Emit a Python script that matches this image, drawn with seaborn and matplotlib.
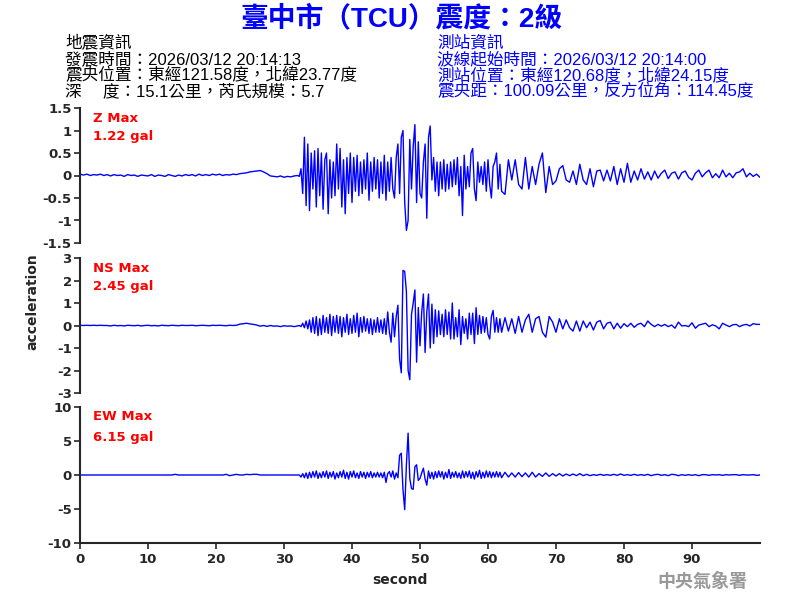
import numpy as np
import pandas as pd
import matplotlib
matplotlib.use("Agg")
import matplotlib.pyplot as plt
import seaborn as sns

# ---- waveform samples ----
# quiet part: 0 .. 31.5 s every 0.5 s
z_quiet = [0.03, 0.01, 0.03, 0.0, 0.02, 0.01, 0.03, 0.0,
           0.02, -0.01, 0.02, 0.0, 0.01, -0.02, 0.02, 0.0,
           0.01, -0.02, 0.01, 0.0, -0.01, 0.02, -0.02, 0.01,
           0.0, -0.02, 0.02, 0.0, -0.02, 0.01, -0.01, 0.02,
           0.0, 0.02, -0.01, 0.03, 0.0, 0.02, 0.0, 0.03,
           0.01, 0.03, 0.0, 0.02, 0.01, 0.03, 0.02, 0.04,
           0.05, 0.06, 0.08, 0.09, 0.1, 0.11, 0.08, 0.04,
           -0.01, -0.02, -0.03, -0.01, -0.04, -0.02, -0.03, -0.01]
# strong part: 32 .. 61.75 s every 0.25 s
z_fast = [0.0, -0.02, 0.15, -0.4, 0.85, -0.67, 0.7, -0.78,
          0.5, -0.3, 0.55, -0.7, 0.6, -0.45, 0.5, -0.75,
          0.35, 0.5, -0.85, 0.35, -0.5, 0.3, -0.45, 0.7,
          -0.3, 0.6, -0.7, 0.35, -0.85, 0.4, -0.4, 0.5,
          -0.6, 0.4, -0.35, 0.45, -0.45, 0.3, -0.4, 0.35,
          -0.3, 0.5, -0.55, 0.3, -0.35, 0.4, -0.3, 0.35,
          -0.5, 0.3, -0.4, 0.45, -0.55, 0.3, -0.35, 0.4,
          -0.3, -0.5, 0.4, 0.7, -0.4, 0.85, 1.0, -0.6,
          -1.22, -1.0, 0.8, -0.3, 0.65, 1.13, -0.6, 0.75,
          -0.4, -0.5, 0.3, 0.7, -0.95, 0.85, 1.1, -0.1,
          0.4, -0.35, 0.3, -0.45, 0.3, -0.3, 0.35, -0.35,
          0.25, -0.3, 0.3, -0.25, 0.35, -0.2, 0.4, -0.45,
          0.2, -0.89, 0.45, -0.3, 0.2, -0.25, 0.5, 0.6,
          -0.3, -0.56, 0.3, -0.15, 0.2, -0.2, 0.3, -0.35,
          0.35, -0.2, -0.5, 0.2, 0.3, 0.5, -0.3, 0.25]
# coda: 62 .. 101.5 s every 0.5 s
z_slow = [-0.35, -0.42, 0.35, -0.1, 0.35, -0.2, -0.3, 0.4,
          -0.3, 0.2, -0.2, 0.25, 0.5, -0.38, 0.2, -0.2,
          -0.12, 0.15, 0.22, -0.1, -0.15, 0.1, -0.2, 0.25,
          -0.1, -0.2, 0.15, -0.25, 0.1, 0.12, -0.12, 0.12,
          -0.12, 0.2, -0.2, 0.15, -0.15, 0.27, -0.15, 0.1,
          -0.1, 0.15, -0.08, 0.08, -0.1, 0.1, -0.06, 0.05,
          0.12, -0.07, 0.05, 0.08, -0.08, 0.06, 0.1, -0.04,
          -0.1, 0.05, 0.12, -0.03, 0.06, 0.12, -0.05, 0.04,
          -0.05, 0.12, -0.03, 0.05, -0.05, 0.06, 0.08, 0.15,
          -0.03, 0.05, -0.02, 0.03, -0.04, -0.04, -0.04, -0.04]

ns_quiet = [0.01, 0.0, 0.01, 0.0, 0.01, 0.0, 0.01, 0.0,
            0.0, -0.02, 0.01, -0.01, 0.0, -0.02, 0.01, 0.0,
            -0.01, 0.01, -0.02, 0.0, 0.01, -0.01, 0.0, -0.02,
            0.01, 0.0, -0.01, 0.01, 0.0, -0.01, 0.01, 0.0,
            0.0, 0.01, -0.01, 0.0, 0.01, 0.0, -0.01, 0.01,
            0.0, 0.01, 0.0, -0.01, 0.01, 0.0, 0.01, 0.06,
            0.08, 0.1, 0.07, 0.05, 0.02, -0.03, 0.0, -0.04,
            0.0, -0.03, -0.02, -0.05, -0.01, -0.03, -0.02, -0.05]
ns_fast = [-0.02, 0.0, -0.05, 0.1, -0.1, 0.2, -0.15, 0.25,
           -0.3, 0.35, -0.35, 0.4, -0.45, 0.3, -0.4, 0.45,
           -0.3, 0.35, -0.35, 0.5, -0.45, 0.4, -0.3, 0.45,
           -0.35, 0.4, -0.5, 0.35, -0.3, 0.5, -0.4, 0.3,
           -0.35, 0.45, -0.3, 0.55, -0.5, 0.35, -0.3, 0.4,
           -0.25, 0.3, -0.35, 0.3, -0.4, 0.25, -0.3, 0.35,
           -0.3, 0.25, -0.35, 0.3, -0.4, 0.6, -0.3, -0.74,
           0.55, -0.5, 0.4, 0.9, -1.5, -2.1, 2.45, 2.4,
           1.5, -2.0, -2.41, 0.5, 1.0, 1.58, -1.63, 0.8,
           -0.9, 0.6, 1.4, -1.2, 0.6, 1.4, -1.0, 0.95,
           -0.8, 0.7, -0.5, 0.65, -0.4, 0.5, -0.5, 0.7,
           -0.4, 0.6, -0.6, 1.0, -0.6, 0.35, -0.5, 0.7,
           -0.85, 0.4, -0.35, 0.3, -0.6, 0.55, -0.4, 0.55,
           -0.8, 0.79, -0.4, 0.45, -0.35, 0.4, -0.3, 0.35,
           -0.4, -0.6, 0.4, 0.67, -0.3, 0.35, -0.3, 0.3]
ns_slow = [-0.3, 0.35, -0.25, 0.3, -0.35, 0.4, -0.3, 0.25,
           0.5, -0.3, 0.3, 0.4, -0.3, -0.52, 0.4, 0.15,
           -0.3, 0.3, -0.15, 0.25, -0.1, -0.25, 0.2, -0.25,
           0.2, -0.1, 0.15, -0.2, 0.15, 0.22, -0.15, 0.1,
           0.15, -0.15, 0.1, -0.12, 0.08, -0.05, 0.1, -0.08,
           0.05, 0.1, -0.05, 0.2, 0.05, -0.05, 0.05, -0.03,
           0.05, -0.05, 0.02, -0.12, 0.15, -0.02, 0.0, -0.05,
           0.12, -0.12, 0.02, 0.06, 0.1, -0.05, 0.03, -0.02,
           -0.15, 0.1, 0.02, -0.05, 0.03, 0.05, -0.05, 0.02,
           0.05, -0.02, 0.08, 0.05, 0.05, 0.05, 0.05, 0.05]

ew_quiet = [0.0, 0.0, 0.0, 0.0, 0.0, 0.0, 0.0, 0.0,
            0.0, 0.0, 0.0, 0.0, 0.0, 0.0, 0.0, 0.0,
            0.0, 0.0, 0.0, 0.0, 0.0, 0.0, 0.0, 0.0,
            0.0, 0.0, 0.0, 0.0, 0.1, 0.0, 0.0, 0.0,
            0.0, 0.0, 0.0, 0.0, 0.0, 0.0, 0.0, 0.0,
            0.0, 0.0, 0.0, 0.1, -0.1, 0.0, 0.1, 0.0,
            0.0, 0.1, 0.05, 0.1, 0.1, 0.0, 0.0, 0.0,
            0.0, 0.0, 0.0, 0.0, 0.0, 0.0, 0.0, 0.0]
ew_fast = [0.0, 0.0, -0.3, 0.2, -0.4, 0.3, -0.5, 0.4,
           -0.4, 0.5, -0.3, 0.6, -0.5, 0.3, -0.4, 0.5,
           -0.3, 0.6, -0.5, 0.4, -0.3, 0.5, -0.6, 0.3,
           -0.4, 0.5, -0.3, 0.7, -0.5, 0.4, -0.6, 0.5,
           -0.3, 0.6, -0.4, 0.3, -0.5, 0.5, -0.3, 0.4,
           -0.5, 0.4, -0.3, 0.5, -0.4, 0.3, -0.3, 0.4,
           -0.3, 0.3, -0.4, 0.4, -1.1, 0.2, 0.5, -0.3,
           0.6, -0.6, 0.3, -0.4, 2.9, 3.2, -2.2, -5.1,
           1.5, 6.15, -0.5, -2.0, -2.1, 1.2, 1.5, -0.8,
           -0.5, 0.3, 1.0, -0.6, -1.5, 0.6, -0.5, 0.4,
           -0.6, 0.5, -0.4, 0.6, -0.3, 0.5, -0.6, 0.4,
           -0.4, 0.8, -0.5, 0.4, -0.3, 0.5, -0.4, 0.3,
           -0.5, 0.6, -0.4, 0.5, -0.3, 0.6, -0.5, 0.4,
           -0.6, 0.5, -0.3, 0.7, -0.5, 0.4, -0.4, 0.6,
           -0.3, 0.5, -0.4, 0.4, -0.3, 0.5, -0.3, 0.4]
ew_slow = [-0.4, 0.4, -0.3, 0.3, -0.3, 0.35, -0.25, 0.3,
           -0.3, 0.4, -0.3, 0.2, -0.2, 0.3, -0.2, 0.2,
           -0.15, 0.2, -0.15, 0.15, -0.1, 0.15, -0.1, 0.2,
           -0.1, 0.1, -0.1, 0.05, -0.05, 0.1, -0.05, 0.05,
           -0.05, 0.1, -0.05, 0.15, -0.05, 0.05, -0.05, 0.1,
           -0.05, 0.05, -0.05, 0.1, -0.1, 0.05, 0.1, -0.05,
           0.05, -0.1, 0.1, 0.05, -0.1, 0.05, -0.05, 0.05,
           -0.05, 0.05, -0.1, 0.05, 0.05, -0.05, 0.05, 0.0,
           0.05, -0.05, 0.05, 0.0, 0.05, 0.05, -0.05, 0.05,
           0.0, 0.0, 0.05, -0.05, 0.0, 0.0, 0.0, 0.0]

components = ["Z", "NS", "EW"]
max_labels = ["1.22 gal", "2.45 gal", "6.15 gal"]
y_limits = [1.5, 3, 10]
y_ticks = [[-1.5, -1, -0.5, 0, 0.5, 1, 1.5],
           [-3, -2, -1, 0, 1, 2, 3],
           [-10, -5, 0, 5, 10]]
x_ticks = [0, 10, 20, 30, 40, 50, 60, 70, 80, 90]

title = "臺中市（TCU）震度：2級"
quake_info = ["地震資訊",
              "發震時間：2026/03/12 20:14:13",
              "震央位置：東經121.58度，北緯23.77度",
              "深　 度：15.1公里，芮氏規模：5.7"]
station_info = ["測站資訊",
                "波線起始時間：2026/03/12 20:14:00",
                "測站位置：東經120.68度，北緯24.15度",
                "震央距：100.09公里，反方位角：114.45度"]


def trace(quiet, fast, slow):
    t = np.concatenate([0.5 * np.arange(len(quiet)),
                        32 + 0.25 * np.arange(len(fast)),
                        62 + 0.5 * np.arange(len(slow))])
    v = np.concatenate([quiet, fast, slow])
    return pd.DataFrame({"second": t, "acceleration": v})


traces = [trace(z_quiet, z_fast, z_slow),
          trace(ns_quiet, ns_fast, ns_slow),
          trace(ew_quiet, ew_fast, ew_slow)]

sns.set_style("ticks")
plt.rcParams["font.family"] = ["Liberation Sans", "Noto Sans CJK TC"]
plt.rcParams["axes.unicode_minus"] = False

W, H = 800, 600
fig = plt.figure(figsize=(8, 6), dpi=100)
axis_font = dict(family="DejaVu Sans", fontweight="bold", fontsize=9.5)


def px(x, y):
    return x / W, 1 - y / H


# panel pixel boxes (top, bottom)
boxes = [(108, 243), (258, 393), (407, 543)]
label_y = [(118, 137), (268, 287), (417, 437)]

for i, df in enumerate(traces):
    top, bot = boxes[i]
    ax = fig.add_axes([80 / W, 1 - bot / H, 680 / W, (bot - top) / H])
    ax.patch.set_alpha(0)
    sns.lineplot(data=df, x="second", y="acceleration", ax=ax, color="#0000ff",
                 linewidth=1.0, estimator=None, sort=False)
    ax.set_xlim(0, 100)
    ax.set_ylim(-y_limits[i], y_limits[i])
    ax.set_yticks(y_ticks[i])
    ax.set_yticklabels([f"{v:g}" for v in y_ticks[i]], **axis_font)
    ax.set_xlabel("")
    ax.set_ylabel("")
    ax.tick_params(axis="y", length=4, width=1.2, pad=2)
    ax.spines["left"].set_linewidth(1.5)
    if i < 2:
        sns.despine(ax=ax, bottom=True)
        ax.set_xticks([])
    else:
        sns.despine(ax=ax)
        ax.spines["bottom"].set_linewidth(1.5)
        ax.set_xticks(x_ticks)
        ax.set_xticklabels([str(v) for v in x_ticks], **axis_font)
        ax.tick_params(axis="x", length=4, width=1.2, pad=3)
    fig.text(*px(93, label_y[i][0]), f"{components[i]} Max", color="red",
             va="center", ha="left", **axis_font)
    fig.text(*px(93, label_y[i][1]), max_labels[i], color="red",
             va="center", ha="left", **axis_font)

fig.text(*px(401, 19), title, color="#0000ff", fontsize=20, fontweight="bold",
         ha="center", va="center")
for k, line in enumerate(quake_info):
    fig.text(*px(65, 43 + 16 * k), line, color="black", fontsize=12,
             ha="left", va="center")
for k, line in enumerate(station_info):
    fig.text(*px(437, 43 + 16 * k), line, color="#0000ff", fontsize=12,
             ha="left", va="center")

fig.text(*px(32, 302), "acceleration", rotation=90, family="DejaVu Sans",
         fontsize=10, fontweight="bold", ha="center", va="center")
fig.text(*px(400, 580), "second", family="DejaVu Sans", fontsize=10,
         fontweight="bold", ha="center", va="center")
fig.text(*px(702, 581), "中央氣象署", color="#999999", fontsize=13,
         fontweight="bold", ha="center", va="center",
         family=["Noto Sans CJK TC"])

fig.savefig("out.png", dpi=100)
